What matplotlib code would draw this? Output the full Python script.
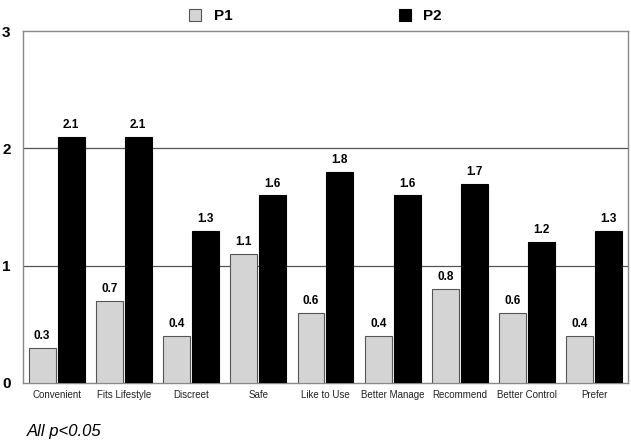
import matplotlib
matplotlib.use("Agg")
import matplotlib.pyplot as plt
import numpy as np

categories = ["Convenient", "Fits Lifestyle", "Discreet", "Safe", "Like to Use",
              "Better Manage", "Recommend", "Better Control", "Prefer"]
p1 = [0.3, 0.7, 0.4, 1.1, 0.6, 0.4, 0.8, 0.6, 0.4]
p2 = [2.1, 2.1, 1.3, 1.6, 1.8, 1.6, 1.7, 1.2, 1.3]
yticks = [0, 1, 2, 3]

plt.rcParams['font.family'] = ['Liberation Sans', 'DejaVu Sans']

fig = plt.figure(figsize=(6.31, 4.46), dpi=100)
ax = fig.add_axes([0.0365, 0.1413, 0.9585, 0.7887])

x = np.arange(len(categories))
w = 0.40
off = 0.215
b1 = ax.bar(x - off, p1, w, color="#d4d4d4", edgecolor="#555555", linewidth=0.8, label="P1", zorder=3)
b2 = ax.bar(x + off, p2, w, color="black", edgecolor="black", linewidth=0.8, label="P2", zorder=3)

for xi, v in zip(x - off, p1):
    ax.text(xi, v + 0.05, f"{v:.1f}", ha="center", va="bottom", fontsize=8.5, fontweight="bold")
for xi, v in zip(x + off, p2):
    ax.text(xi, v + 0.05, f"{v:.1f}", ha="center", va="bottom", fontsize=8.5, fontweight="bold")

ax.set_xlim(-0.5, len(categories) - 0.5)
ax.set_ylim(0, 3)
ax.set_yticks(yticks)
ax.set_yticklabels([str(t) for t in yticks], fontsize=11, fontweight="bold")
ax.set_xticks(x)
ax.set_xticklabels(categories, fontsize=7, color="#222222")
ax.tick_params(axis="both", length=0, pad=5)
ax.tick_params(axis="y", pad=9)
for y in [1, 2]:
    ax.axhline(y, color="#555555", linewidth=0.9, zorder=1)
for s in ax.spines.values():
    s.set_color("#888888")
    s.set_linewidth(1.0)

leg = fig.legend(handles=[b1, b2], labels=["P1", "P2"], loc="upper center",
                 bbox_to_anchor=(0.5, 1.01), ncol=2, frameon=False,
                 prop={"size": 11, "weight": "bold"}, columnspacing=10.9,
                 handlelength=0.8, handleheight=0.8, handletextpad=0.8)

fig.text(0.043, 0.022, "All p<0.05", fontsize=12, style="italic")

fig.savefig("out.png", dpi=100)
